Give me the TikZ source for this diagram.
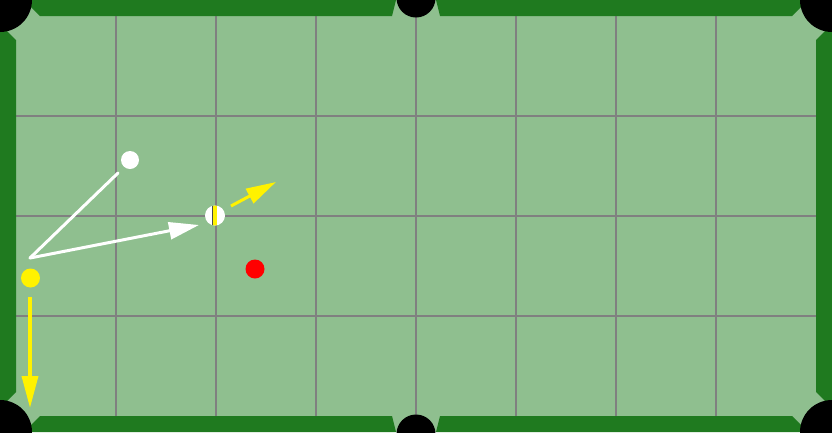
\documentclass[tikz,border=0pt]{standalone}
\usetikzlibrary{arrows.meta}
\definecolor{felt}{RGB}{143,191,143}
\definecolor{cushion}{RGB}{31,122,31}
\definecolor{gridgray}{RGB}{128,128,128}
\begin{document}
\begin{tikzpicture}[x=1pt,y=-1pt,
  ball/.style={circle,minimum size=19pt,inner sep=0pt,outer sep=0pt},
  whiteshot/.style={draw=white,line width=3pt},
  yellowshot/.style={draw=yellow,line width=3.5pt},
  pocket/.style={fill=black}]
\useasboundingbox (0,0) rectangle (832,432);
\fill[felt] (0,0) rectangle (832,432);
% grid
\foreach \x in {116,216,316,416,516,616,716}
  \draw[gridgray,line width=2pt] (\x,16) -- (\x,416);
\foreach \y in {116,216,316}
  \draw[gridgray,line width=2pt] (16,\y) -- (816,\y);
% cushions
\fill[cushion] (24,0) -- (396,0) -- (392,16) -- (40,16) -- cycle;
\fill[cushion] (436,0) -- (808,0) -- (792,16) -- (440,16) -- cycle;
\fill[cushion] (24,432) -- (396,432) -- (392,416) -- (40,416) -- cycle;
\fill[cushion] (436,432) -- (808,432) -- (792,416) -- (440,416) -- cycle;
\fill[cushion] (0,24) -- (16,40) -- (16,392) -- (0,408) -- cycle;
\fill[cushion] (832,24) -- (816,40) -- (816,392) -- (832,408) -- cycle;
% pockets
\fill[pocket] (0,0) circle (32);
\fill[pocket] (832,0) circle (32);
\fill[pocket] (0,432) circle (32);
\fill[pocket] (832,432) circle (32);
\fill[pocket] (416,-2) circle (19.5);
\fill[pocket] (416,434) circle (19.5);
% balls
\node[ball,fill=white,minimum size=18pt] (cue) at (130,160) {};
\node[ball,fill=yellow] (yel) at (30.5,278) {};
\node[ball,fill=red] (red) at (255,269) {};
\node[ball,fill=white,minimum size=20pt] (stripe) at (215,215.5) {};
\begin{scope}
  \clip (215,215.5) circle (10);
  \fill[yellow] (212,205) rectangle (217,226);
  \draw[black!70,line width=0.8pt] (212.4,205) -- (212.4,226);
\end{scope}
% shot lines
\coordinate (cueend) at (118,173);
\coordinate (bank) at (30,258);
\coordinate (aim) at (199,225);
\draw[whiteshot,line cap=round] (cueend) -- (bank);
\draw[whiteshot,line cap=round,-{Triangle[length=30pt,width=17pt]}] (bank) -- (aim);
\coordinate (ys) at (30,297);
\coordinate (ye) at (30,408);
\draw[yellowshot,-{Triangle[length=32pt,width=16pt]}] (ys) -- (ye);
\coordinate (ss) at (231,206);
\coordinate (se) at (276,182);
\draw[yellowshot,line width=3pt,-{Triangle[length=30pt,width=16pt]}] (ss) -- (se);
\end{tikzpicture}
\end{document}
